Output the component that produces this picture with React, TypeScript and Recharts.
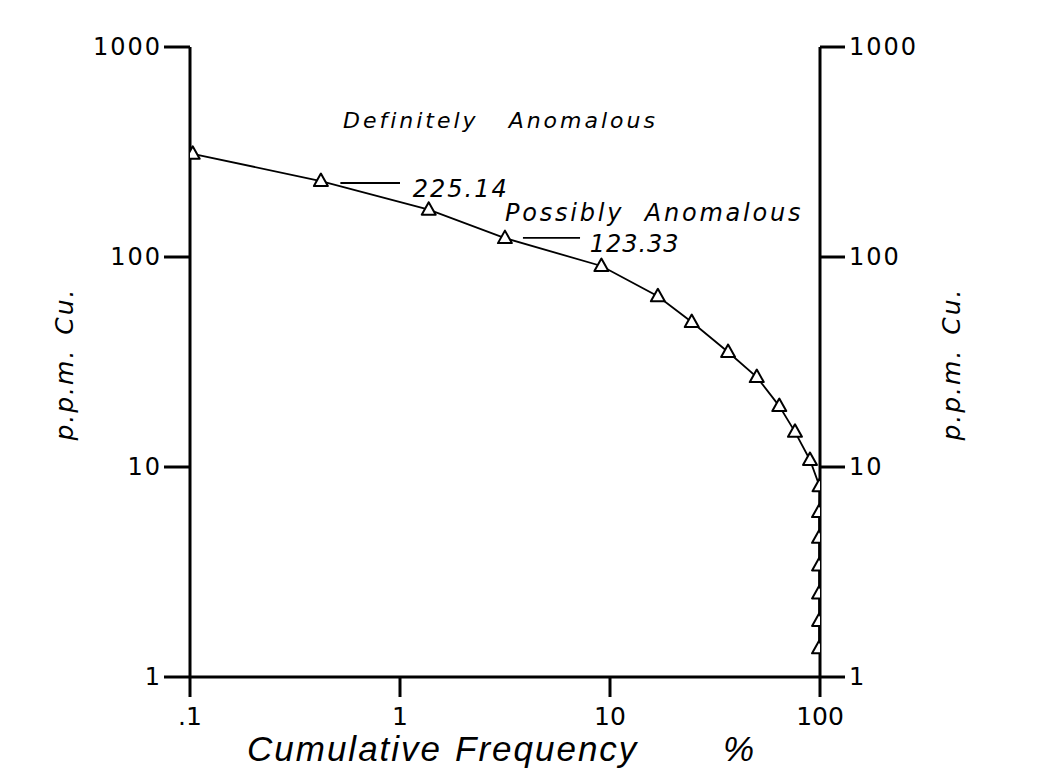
import { LineChart, Line, XAxis, YAxis, ReferenceLine, ReferenceDot } from "recharts";

// cumulative frequency (%) vs copper content (p.p.m.), log-log probability plot
const cumFreq = [0.103, 0.42, 1.37, 3.16, 9.1, 16.9, 24.5, 36.5, 50, 64, 76, 89.6, 99.5, 99, 99, 99, 99, 99, 99];
const ppmCu = [310, 230, 168, 123, 90.6, 65, 49, 35.3, 26.8, 19.5, 14.7, 10.8, 8.1, 6.1, 4.6, 3.4, 2.5, 1.85, 1.37];

const xTicks = [0.1, 1, 10, 100];
const yTicks = [1, 10, 100, 1000];

// threshold values with leader line extent (in % units)
const thresholdValues = [225.14, 123.33];
const leaderFrom = [0.52, 3.85];
const leaderTo = [1.0, 7.2];
const thresholdTextX = [1.15, 8.0];
const thresholdTextY = [193, 106];

const zoneNames = ["Definitely Anomalous", "Possibly Anomalous"];
const zoneX = [0.535, 3.16];
const zoneY = [411, 148];

const data = cumFreq.map((x, i) => ({ x, y: ppmCu[i] }));

const INK = "#000";
const FONT = "'DejaVu Sans', 'Liberation Sans', sans-serif";

const fmtTick = (v: number) => (v < 1 ? ".1" : String(v));

function LeftTick({ x, y, payload }: any) {
  return (
    <text x={x + 2} y={y} textAnchor="end" dominantBaseline="central" fontFamily={FONT} fontSize={24} letterSpacing={2} fill={INK}>
      {fmtTick(payload.value)}
    </text>
  );
}

function RightTick({ x, y, payload }: any) {
  return (
    <text x={x} y={y} textAnchor="start" dominantBaseline="central" fontFamily={FONT} fontSize={24} letterSpacing={2} fill={INK}>
      {fmtTick(payload.value)}
    </text>
  );
}

function BottomTick({ x, y, payload }: any) {
  return (
    <text x={x} y={y + 22} textAnchor="middle" fontFamily={FONT} fontSize={25} fill={INK}>
      {fmtTick(payload.value)}
    </text>
  );
}

function Triangle({ cx, cy }: any) {
  if (cx == null || cy == null) return null;
  const d = `M${cx},${cy - 7.5} L${cx - 7},${cy + 5} L${cx + 7},${cy + 5} Z`;
  return <path d={d} fill="#fff" stroke={INK} strokeWidth={2} strokeLinejoin="round" />;
}

function YTitle({ viewBox, side }: any) {
  const cx = side === "left" ? viewBox.x + 33 : viewBox.x + 140;
  const cy = viewBox.y + viewBox.height / 2 + 2;
  return (
    <text
      x={cx}
      y={cy}
      transform={`rotate(-90 ${cx} ${cy})`}
      textAnchor="middle"
      fontFamily={FONT}
      fontStyle="italic"
      fontSize={25}
      letterSpacing={2}
      wordSpacing={4}
      fill={INK}
    >
      p.p.m. Cu.
    </text>
  );
}

function XTitle({ viewBox }: any) {
  const x0 = viewBox.x + 57;
  const y0 = viewBox.y + 84;
  return (
    <text y={y0} fontFamily="'Liberation Sans', Arial, sans-serif" fontStyle="italic" fontSize={35} letterSpacing={2} fill={INK}>
      <tspan x={x0}>Cumulative</tspan>
      <tspan x={x0 + 208}>Frequency</tspan>
      <tspan x={x0 + 476}>%</tspan>
    </text>
  );
}

function AnnText({ viewBox, text, size, spacing, wordGap }: any) {
  return (
    <text
      x={viewBox.x}
      y={viewBox.y}
      fontFamily={FONT}
      fontStyle="italic"
      fontSize={size}
      letterSpacing={spacing}
      wordSpacing={wordGap}
      fill={INK}
    >
      {text}
    </text>
  );
}

export default function App() {
  return (
    <div style={{ width: 1047, height: 771, background: "#fff" }}>
      <style>{`body{margin:0;background:#fff}`}</style>
      <LineChart width={1047} height={771} data={data} margin={{ top: 47, right: 77, bottom: 0, left: 40 }}>
        <XAxis
          dataKey="x"
          type="number"
          scale="log"
          domain={[0.1, 100]}
          allowDataOverflow
          ticks={xTicks}
          interval={0}
          height={94}
          tickSize={20}
          tickMargin={6}
          axisLine={{ stroke: INK, strokeWidth: 3 }}
          tickLine={{ stroke: INK, strokeWidth: 3 }}
          tick={<BottomTick />}
          label={<XTitle />}
        />
        <YAxis
          yAxisId="left"
          type="number"
          scale="log"
          domain={[1, 1000]}
          allowDataOverflow
          ticks={yTicks}
          interval={0}
          width={150}
          tickSize={26}
          tickMargin={4}
          axisLine={{ stroke: INK, strokeWidth: 3 }}
          tickLine={{ stroke: INK, strokeWidth: 3 }}
          tick={<LeftTick />}
          label={<YTitle side="left" />}
        />
        <YAxis
          yAxisId="right"
          orientation="right"
          type="number"
          scale="log"
          domain={[1, 1000]}
          allowDataOverflow
          ticks={yTicks}
          interval={0}
          width={150}
          tickSize={25}
          tickMargin={4}
          axisLine={{ stroke: INK, strokeWidth: 3 }}
          tickLine={{ stroke: INK, strokeWidth: 3 }}
          tick={<RightTick />}
          label={<YTitle side="right" />}
        />

        {thresholdValues.map((v, i) => (
          <ReferenceLine
            key={`lead${i}`}
            yAxisId="left"
            segment={[
              { x: leaderFrom[i], y: v },
              { x: leaderTo[i], y: v },
            ]}
            stroke={INK}
            strokeWidth={1.8}
          />
        ))}
        {thresholdValues.map((v, i) => (
          <ReferenceDot
            key={`thr${i}`}
            yAxisId="left"
            x={thresholdTextX[i]}
            y={thresholdTextY[i]}
            r={0}
            fill="none"
            stroke="none"
            label={<AnnText text={v.toFixed(2)} size={24} spacing={i === 0 ? 2 : 1} wordGap={0} />}
          />
        ))}
        {zoneNames.map((name, i) => (
          <ReferenceDot
            key={`zone${i}`}
            yAxisId="left"
            x={zoneX[i]}
            y={zoneY[i]}
            r={0}
            fill="none"
            stroke="none"
            label={<AnnText text={name} size={i === 0 ? 22 : 24} spacing={i === 0 ? 3 : 2.8} wordGap={i === 0 ? 20 : 10} />}
          />
        ))}

        <Line
          yAxisId="right"
          dataKey="y"
          stroke="none"
          dot={false}
          activeDot={false}
          legendType="none"
          isAnimationActive={false}
        />
        <Line
          yAxisId="left"
          dataKey="y"
          type="linear"
          stroke={INK}
          strokeWidth={1.8}
          dot={(p: any) => <Triangle key={`t${p.index}`} cx={p.cx} cy={p.cy} />}
          activeDot={false}
          isAnimationActive={false}
        />
      </LineChart>
    </div>
  );
}
